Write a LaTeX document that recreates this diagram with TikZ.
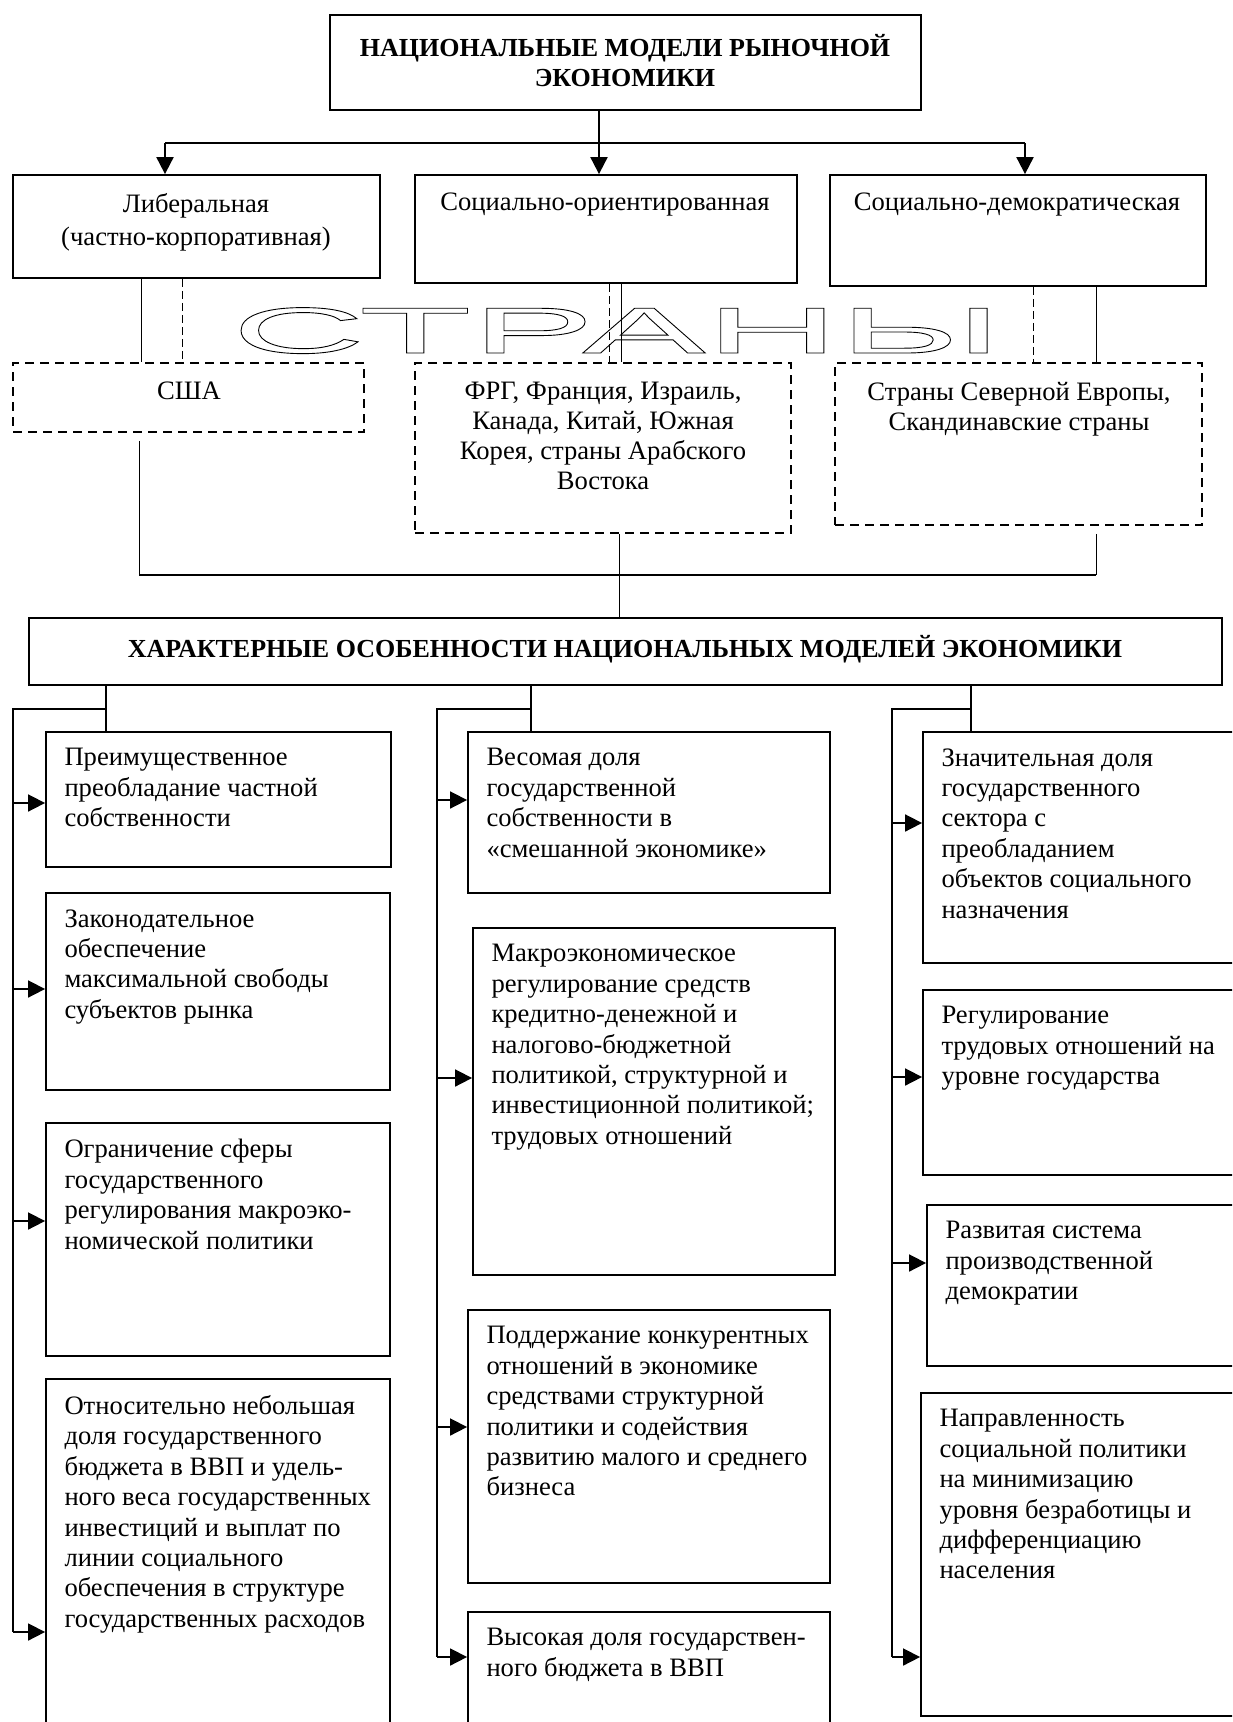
\documentclass[tikz,border=0pt]{standalone}
\usepackage{fontspec}
\setmainfont{Liberation Serif}
\newfontfamily\stranyfont[FakeStretch=2.84]{Liberation Sans}
\usetikzlibrary{arrows.meta,fit,calc}

\tikzset{
  boxst/.style={draw, line width=0.9pt, inner sep=0pt},
  dboxst/.style={draw, line width=0.9pt, inner sep=0pt, dash pattern=on 4.5pt off 3pt},
  ftext/.style={inner sep=0pt, align=left, font=\fontsize{13.3}{15.2}\selectfont},
  ctext/.style={inner sep=0pt, align=center, font=\fontsize{13.3}{15}\selectfont},
  btext/.style={inner sep=0pt, align=center, font=\fontsize{13}{15}\selectfont\bfseries},
  thinln/.style={line width=0.5pt},
  dashln/.style={line width=0.5pt, dash pattern=on 4pt off 2pt},
  thickln/.style={line width=1pt},
  railln/.style={line width=0.85pt},
  toparr/.style={line width=1pt, -{Triangle[length=8.5pt,width=8.5pt]}},
  farr/.style={line width=0.85pt, -{Triangle[length=8.5pt,width=8.5pt]}}
}

\newcommand\featbox[6]{%
  \node[boxst, fit={(#2,#3)(#4,#5)}] (#1) {};
  \node[ftext, anchor=north west] (#1t) at ($(#1.north west)+(19,17)$) {#6};
}

\begin{document}
\begin{tikzpicture}[x=0.5pt,y=-0.5pt]
\useasboundingbox (0,0) rectangle (1232,1722);
\clip (0,0) rectangle (1232,1722);

% ---------- top ----------
\node[boxst, fit={(330,15)(921,110)}] (T) {};
\node[btext, anchor=north] (Tt) at (625,34) {НАЦИОНАЛЬНЫЕ МОДЕЛИ РЫНОЧНОЙ\\ЭКОНОМИКИ};

\node[boxst, fit={(13,175)(380,278)}] (A1) {};
\node[ctext, anchor=north, font=\fontsize{13.3}{16.5}\selectfont] (A1t) at (196,193) {Либеральная\\(частно-корпоративная)};
\node[boxst, fit={(415,175)(797,283)}] (A2) {};
\node[ctext, anchor=base] (A2t) at (605,211) {Социально-ориентированная};
\node[boxst, fit={(830,175)(1206,286)}] (A3) {};
\node[ctext, anchor=base] (A3t) at (1017,211) {Социально-демократическая};

\draw[toparr] (T.south -| 599,0) -- (A2.north -| 599,0);
\draw[thickln] (165,143) -- (1025,143);
\draw[toparr] (165,143) -- (A1.north -| 165,0);
\draw[toparr] (1025,143) -- (A3.north -| 1025,0);

% ---------- countries ----------
\node[dboxst, fit={(13,363)(364,432)}] (C1) {};
\node[ctext, anchor=base] (C1t) at (189,400) {США};
\node[dboxst, fit={(415,363)(791,533)}] (C2) {};
\node[ctext, anchor=north] (C2t) at (603,382) {ФРГ, Франция, Израиль,\\Канада, Китай, Южная\\Корея, страны Арабского\\Востока};
\node[dboxst, fit={(835,363)(1202,525)}] (C3) {};
\node[ctext, anchor=north] (C3t) at (1019,382) {Страны Северной Европы,\\Скандинавские страны};

\draw[thinln] (A1.south -| 141,0) -- (C1.north -| 141,0);
\draw[dashln] (A1.south -| 182,0) -- (C1.north -| 182,0);
\draw[dashln] (A2.south -| 609,0) -- (C2.north -| 609,0);
\draw[thinln] (A2.south -| 621,0) -- (C2.north -| 621,0);
\draw[dashln] (A3.south -| 1033,0) -- (C3.north -| 1033,0);
\draw[thinln] (A3.south -| 1096,0) -- (C3.north -| 1096,0);

\node[anchor=base, inner sep=0pt] (strany) at (617,353) {\stranyfont\fontsize{32.5}{32}\selectfont\special{pdf:literal direct 1 Tr 0.45 w}СТРАНЫ\special{pdf:literal direct 0 Tr}};

% ---------- bus ----------
\coordinate (busL) at (139,575);
\coordinate (busM) at (619,575);
\coordinate (busR) at (1096,575);
\draw[thinln] ($(C1.south -| busL)+(0,8)$) -- (busL);
\draw[thinln] ($(C3.south -| busR)+(0,8)$) -- (busR);
\draw[thickln] (busL) -- (busR);

\node[boxst, fit={(29,618)(1222,685)}] (H) {};
\node[btext, anchor=base] (Ht) at (625,657) {ХАРАКТЕРНЫЕ ОСОБЕННОСТИ НАЦИОНАЛЬНЫХ МОДЕЛЕЙ ЭКОНОМИКИ};
\draw[thinln] (C2.south -| busM) -- (H.north -| busM);

% ---------- feature boxes ----------
\featbox{L1}{46}{732}{391}{867}{Преимущественное\\преобладание частной\\собственности}
\featbox{L2}{46}{893}{390}{1090}{Законодательное\\обеспечение\\максимальной свободы\\субъектов рынка}
\featbox{L3}{46}{1123}{390}{1356}{Ограничение сферы\\государственного\\регулирования макроэко-\\номической политики}
\featbox{L4}{46}{1379}{390}{1760}{Относительно небольшая\\доля государственного\\бюджета в ВВП и удель-\\ного веса государственных\\инвестиций и выплат по\\линии социального\\обеспечения в структуре\\государственных расходов}

\featbox{M1}{468}{732}{830}{893}{Весомая доля\\государственной\\собственности в\\«смешанной экономике»}
\featbox{M2}{473}{928}{835}{1275}{Макроэкономическое\\регулирование средств\\кредитно-денежной и\\налогово-бюджетной\\политикой, структурной и\\инвестиционной политикой;\\трудовых отношений}
\featbox{M3}{468}{1310}{830}{1583}{Поддержание конкурентных\\отношений в экономике\\средствами структурной\\политики и содействия\\развитию малого и среднего\\бизнеса}
\featbox{M4}{468}{1612}{830}{1760}{Высокая доля государствен-\\ного бюджета в ВВП}

\featbox{R1}{923}{732}{1260}{963}{Значительная доля\\государственного\\сектора с\\преобладанием\\объектов социального\\назначения}
\featbox{R2}{923}{990}{1260}{1175}{Регулирование\\трудовых отношений на\\уровне государства}
\featbox{R3}{927}{1205}{1260}{1366}{Развитая система\\производственной\\демократии}
\featbox{R4}{921}{1393}{1260}{1716}{Направленность\\социальной политики\\на минимизацию\\уровня безработицы и\\дифференциацию\\населения}

% ---------- rails ----------
\draw[thinln, line width=0.6pt] (H.south -| 106,0) -- (L1.north -| 106,0);
\draw[thinln, line width=0.6pt] (H.south -| 531,0) -- (M1.north -| 531,0);
\draw[thinln, line width=0.6pt] (H.south -| 971,0) -- (R1.north -| 971,0);

\draw[railln] (106,709) -- (13,709) -- (13,1632);
\draw[railln] (531,709) -- (437,709) -- (437,1657);
\draw[railln] (971,709) -- (892,709) -- (892,1657);

\draw[farr] (13,803) -- (L1.west |- 13,803);
\draw[farr] (13,989) -- (L2.west |- 13,989);
\draw[farr] (13,1221) -- (L3.west |- 13,1221);
\draw[farr] (13,1632) -- (L4.west |- 13,1632);

\draw[farr] (437,800) -- (M1.west |- 437,800);
\draw[farr] (437,1078) -- (M2.west |- 437,1078);
\draw[farr] (437,1427) -- (M3.west |- 437,1427);
\draw[farr] (437,1657) -- (M4.west |- 437,1657);

\draw[farr] (892,823) -- (R1.west |- 892,823);
\draw[farr] (892,1077) -- (R2.west |- 892,1077);
\draw[farr] (892,1263) -- (R3.west |- 892,1263);
\draw[farr] (892,1657) -- (R4.west |- 892,1657);
\end{tikzpicture}
\end{document}
